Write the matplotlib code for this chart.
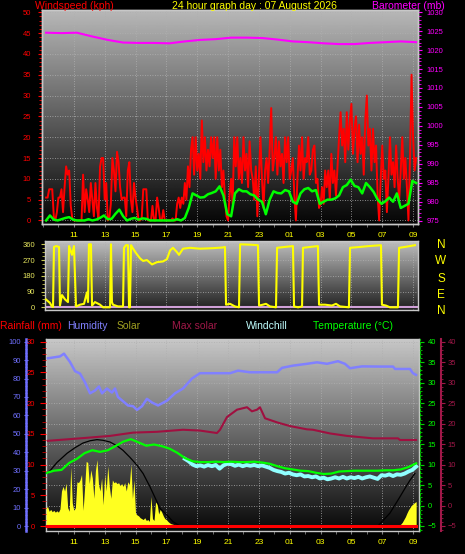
import numpy as np
import matplotlib
matplotlib.use("Agg")
import matplotlib.pyplot as plt
from matplotlib.ticker import MultipleLocator

plt.rcParams['font.family'] = ['Liberation Sans', 'DejaVu Sans']

######## DATA ########
# time axis = hours after 09:00 on 07 August
hour_ticks = [2, 4, 6, 8, 10, 12, 14, 16, 18, 20, 22, 24]
hour_labels = ['11', '13', '15', '17', '19', '21', '23', '01', '03', '05', '07', '09']

# wind gust (kph), one reading every 6 min from 09:12
gust = [5.5, 5.5, 7.5, 7.5, 7.5, 1, 0, 2, 5.5, 5.5,
        7.5, 2, 8, 13, 11, 12, 3.5, 0.5, 0, 0,
        0, 0, 0, 0, 11, 2, 7.5, 5, 2, 9,
        5, 1, 9, 3, 0.5, 13, 15, 15, 5, 9,
        0, 0.5, 4, 15, 12, 7, 16.5, 14, 8, 5,
        5.5, 5.5, 1, 12, 14, 5, 2, 9, 5.5, 3,
        0, 0, 0.5, 7.5, 7.5, 7.5, 0, 0, 0, 3.5,
        0, 0, 5.5, 3, 0, 0, 2.5, 0, 0, 0,
        0, 0, 0.5, 0, 0, 4, 5.5, 3, 5.5, 4,
        9, 5, 13, 8, 17, 20, 11, 20, 12, 16,
        10, 24, 14, 20, 12, 17, 13, 20, 15, 20,
        10, 20, 12, 17, 8, 12, 5, 1, 0, 6,
        10, 4, 20, 13, 20, 10, 15, 9, 20, 12,
        16, 8, 19, 12, 10, 5, 13, 1, 10, 20,
        10, 3, 12, 15, 9, 17, 27, 12, 15, 20,
        11, 19, 13, 16, 9, 20, 14, 20, 10, 12,
        15, 6, 0, 10, 18, 12, 20, 10, 15, 14,
        20, 11, 12, 17, 18, 9, 10, 3, 4, 8,
        4, 12, 8, 12, 5, 16, 9, 12, 6, 13,
        20, 26, 18, 22, 14, 26, 17, 24, 28, 16,
        22, 25, 14, 23, 16, 20, 11, 24, 30, 18,
        22, 12, 22, 14, 18, 6, 0, 10, 18, 10,
        12, 2, 10, 20, 11, 14, 8, 18, 10, 5,
        12, 20, 10, 15, 8, 0, 15, 35, 20, 12, 15]
gust_t = np.linspace(0.2, 24.2, len(gust))

# average wind speed (kph), every 15 min
wind = [0, 1.2, 0.2, 0, 0.3, 0.6, 0.8, 0.2, 0, 0,
        0, 0.3, 0, 0.2, 0.6, 1.2, 0.3, 0.4, 1.6, 2.6,
        1, 0, 0.4, 0.6, 0.2, 0.5, 0.4, 0, 0, 0,
        0, 0, 0, 0, 0.3, 0, 0.6, 3, 6.5, 6,
        5.5, 5.6, 6.3, 6.6, 7, 8.2, 6, 1.5, 1, 6.5,
        7.5, 7, 7, 6.3, 6, 5, 4.5, 1.5, 5, 7,
        6.6, 6.5, 7.3, 7, 4.5, 4, 6.5, 7.5, 7.8, 7,
        7.3, 4, 4.5, 5, 5, 5.3, 6, 8, 8.5, 9.8,
        8.3, 8, 6.5, 9, 8, 6.8, 5, 4, 4.6, 5.5,
        4.5, 6.5, 3, 3.5, 4, 9.5, 9]
wind_t = np.linspace(0.2, 24.2, len(wind))

# barometer (mb), hourly
baro = [1024.6, 1024.5, 1024.6, 1023.6, 1022.7, 1022.0, 1021.9, 1021.9, 1021.8,
        1022.3, 1022.7, 1022.9, 1023.3, 1023.3, 1023.2, 1022.8, 1022.3, 1022.1,
        1021.8, 1021.6, 1021.6, 1021.9, 1022.1, 1022.3, 1022.1]
baro_t = np.linspace(0.2, 24.2, len(baro))

# wind direction (degrees)
dir_t = [0.19, 0.32, 0.45, 0.58, 0.65, 0.71, 0.85, 1.04, 1.10, 1.23, 1.43, 1.62, 1.69,
         1.88, 2.01, 2.14, 2.40, 2.66, 2.85, 2.92, 2.98, 3.11, 3.18, 3.37, 3.70, 3.89,
         4.35, 4.41, 4.47, 4.54, 4.86, 5.19, 5.25, 5.38, 5.51, 5.58, 5.64, 5.71, 5.77,
         6.03, 6.29, 6.49, 6.74, 7.07, 7.39, 7.78, 8.04, 8.24, 8.43, 8.69, 8.82, 9.08,
         9.53, 10.18, 11.02, 11.67, 11.80, 11.87, 12.13, 12.45, 12.71, 12.78, 13.42,
         13.94, 14.01, 14.26, 14.46, 14.72, 15.11, 15.18, 15.69, 16.21, 16.28, 16.54,
         16.80, 16.86, 17.32, 17.83, 17.90, 18.29, 18.74, 19.00, 19.26, 19.84, 19.91,
         20.56, 21.14, 21.92, 21.98, 22.24, 22.50, 22.76, 23.02, 23.09, 23.48, 23.80, 24.12]
dir_deg = [45, 35, 25, 5, 2, 345, 350, 345, 10, 70, 45, 30, 350,
           300, 350, 5, 15, 20, 85, 30, 360, 360, 10, 30, 15, 0,
           0, 360, 30, 15, 5, 5, 340, 355, 355, 0, 0, 355, 345,
           310, 280, 265, 270, 245, 258, 262, 275, 325, 340, 315, 300, 335,
           340, 335, 338, 342, 345, 15, 20, 5, 0, 360, 358,
           355, 10, 15, 20, 5, 0, 340, 345, 350, 5, 0,
           5, 340, 345, 350, 15, 15, 10, 20, 5, 0, 340,
           345, 350, 355, 15, 10, 0, 0, 0, 340, 345, 350, 355]

# humidity (%)
hum_t = [0.32, 1.10, 1.36, 1.75, 2.08, 2.40, 2.72, 3.05, 3.37, 3.63, 3.83, 4.15, 4.47,
         4.67, 4.86, 5.19, 5.51, 5.84, 6.10, 6.42, 6.74, 7.07, 7.46, 8.04, 8.56, 9.08,
         9.66, 10.18, 11.28, 12.13, 12.65, 13.42, 15.18, 15.50, 16.21, 17.12, 17.77,
         18.42, 19.13, 19.58, 19.91, 20.69, 21.85, 22.70, 22.83, 23.80, 23.99, 24.19]
hum = [91, 92, 93.5, 89, 84, 82.7, 78, 72, 73.5, 75.7, 72, 74.6, 72.4,
       74.6, 70, 67.7, 65.4, 65, 63, 65, 69, 67, 65.4, 68, 72, 74.6,
       80, 82.9, 82.9, 82.9, 84.3, 83.4, 83.4, 85.8, 87, 88, 88.8,
       88, 89.4, 88, 85.6, 86.6, 86.5, 86.5, 85.2, 85.2, 82.9, 82]

# crimson line (right hand scale, -5..40)
crim_t = [0.32, 2.40, 4.35, 5.84, 7.39, 9.08, 10.18, 11.28, 11.48, 11.93, 12.58, 13.23,
          13.55, 13.88, 14.07, 14.40, 15.18, 16.02, 17.12, 17.51, 18.61, 19.71, 21.40,
          23.02, 23.15, 24.19]
crim = [15.8, 16.4, 17.0, 17.8, 18.0, 18.5, 18.3, 17.7, 18.5, 21.6, 23.4, 24.0,
        23.0, 23.4, 24.0, 21.3, 20.3, 19.4, 18.6, 18.5, 17.6, 17.0, 16.4,
        16.4, 16.0, 16.0]

# temperature (C), every 30 min
temp = [7.9, 8.5, 8.7, 10.4, 11.4, 12.8, 13.5, 13.1, 13.5, 14.5, 15.6, 16.2, 15.4,
        14.6, 14.9, 14.5, 13.9, 12.9, 11.6, 10.8, 10.6, 10.6, 10.7, 10.6, 10.7,
        10.6, 10.6, 10.7, 10.5, 10.2, 9.6, 9.1, 8.8, 8.5, 8.4, 8.0, 7.7, 7.8,
        8.3, 8.4, 8.5, 8.5, 8.5, 8.5, 8.6, 8.6, 8.8, 9.4, 10.3]
temp_t = np.linspace(0.2, 24.2, len(temp))

# windchill (C), every 15 min from 18:12 (equal to temperature before that)
chill = [11.4, 10.8, 10.0, 9.6, 9.8, 9.5, 9.9, 9.6, 9.9, 9.0, 9.8, 10.2, 10.1,
         9.7, 10.0, 9.6, 9.9, 9.7, 9.9, 9.6, 9.8, 9.5, 9.2, 8.7, 8.4, 8.2, 7.8,
         8.0, 7.6, 7.4, 7.6, 7.1, 7.2, 6.9, 7.1, 6.6, 6.8, 6.4, 6.6, 6.9, 6.6,
         7.0, 6.6, 6.9, 6.7, 7.0, 6.6, 6.9, 7.1, 6.8, 6.5, 7.4, 7.3, 7.6, 7.2,
         7.6, 7.5, 7.8, 8.3, 8.7, 9.5]
chill_t = np.linspace(9.2, 24.2, len(chill))

# solar (W/m2), afternoon every 6 min, next morning every 6 min
solar = [200, 210, 160, 180, 155, 170, 150, 165, 150, 185,
         380, 430, 380, 465, 200, 160, 640, 250, 170, 200,
         480, 470, 500, 560, 170, 420, 700, 690, 460, 610,
         520, 300, 600, 720, 450, 380, 520, 230, 560, 380,
         650, 430, 300, 500, 470, 480, 460, 470, 440, 460,
         430, 470, 380, 480, 450, 670, 300, 500, 140, 120,
         110, 90, 80, 70, 90, 60, 70, 50, 320, 80,
         60, 260, 240, 130, 180, 150, 110, 80, 70, 50,
         35, 25, 20, 15, 8, 0]
solar_t = np.linspace(0.2, 8.7, len(solar))
solar2 = [0, 10, 20, 40, 70, 100, 140, 175, 200, 225, 240, 255, 265]
solar2_t = np.linspace(23.0, 24.2, len(solar2))

# theoretical max solar (W/m2)
maxsol_t = [0.32, 0.91, 1.56, 2.08, 2.59, 3.05, 3.50, 3.89, 4.35, 4.80, 5.19, 5.64,
            6.10, 6.49, 6.94, 7.26, 7.59, 8.04, 8.43, 8.88, 21.72, 22.11, 22.50,
            22.83, 23.15, 23.48, 23.80, 24.12]
maxsol = [573, 690, 789, 850, 900, 925, 937, 930, 911, 870, 821, 745,
          659, 570, 425, 310, 191, 119, 47, 0, 0, 70, 140,
          230, 317, 410, 497, 570]

# rainfall (mm)
rain_t = [0.2, 24.2]
rain = [0.0, 0.0]

######## LAYOUT ########
W, H = 465, 554
fig = plt.figure(figsize=(W / 100, H / 100), dpi=100, facecolor='black')

def box(x0, y0, x1, y1):
    return [x0 / W, 1 - y1 / H, (x1 - x0) / W, (y1 - y0) / H]

def hour_at(x):
    return (x - 43) / 15.42

def shade(ax, top, bottom):
    grad = np.linspace(top, bottom, 256).reshape(-1, 1)
    ax.imshow(grad, cmap='gray', vmin=0, vmax=1, aspect='auto', extent=[0, 1, 0, 1],
              transform=ax.transAxes, zorder=0, interpolation='bilinear')

def frame(ax):
    for s in ax.spines.values():
        s.set_color('#c8c8c8')
        s.set_linewidth(1)

GRID = dict(color='#b0b0b0', linestyle=(0, (1, 2)), linewidth=0.6)
TICKFONT = 5.5

def ftext(x, y, s, color, size=7.5, ha='left'):
    fig.text(x / W, 1 - y / H, s, color=color, fontsize=size, ha=ha, va='center')

######## WIND / BAROMETER ########
ax_w = fig.add_axes(box(42, 10, 418, 224))
shade(ax_w, 0.72, 0.02)
ax_w.set_xlim(hour_at(42), hour_at(418))
ax_w.set_ylim(-0.85, 50.55)
frame(ax_w)
ax_w.set_xticks(hour_ticks)
ax_w.set_xticklabels(hour_labels)
ax_w.xaxis.set_minor_locator(MultipleLocator(1))
ax_w.tick_params(axis='x', which='both', colors='#808080', labelcolor='yellow',
                 labelsize=6, length=2, pad=4)
ax_w.yaxis.set_major_locator(MultipleLocator(5))
ax_w.yaxis.set_minor_locator(MultipleLocator(1))
ax_w.tick_params(axis='y', which='major', colors='red', labelsize=TICKFONT, length=3, pad=5)
ax_w.tick_params(axis='y', which='minor', colors='red', length=2)
ax_w.grid(True, **GRID)
ax_w.plot(gust_t, gust, color='#ff0000', linewidth=1.4, zorder=3)
ax_w.plot(wind_t, wind, color='#00ff00', linewidth=1.8, zorder=4)

ax_p = ax_w.twinx()
ax_p.set_ylim(974.08, 1030.6)
ax_p.yaxis.set_major_locator(MultipleLocator(5))
ax_p.yaxis.set_minor_locator(MultipleLocator(1))
ax_p.tick_params(axis='y', which='major', colors='#ff00ff', labelsize=TICKFONT, length=3, pad=3)
ax_p.tick_params(axis='y', which='minor', colors='#ff00ff', length=2)
frame(ax_p)
ax_p.plot(baro_t, baro, color='#ff00ff', linewidth=1.5)

ftext(35, 6, 'Windspeed (kph)', 'red')
ftext(172, 6, '24 hour graph day : 07 August 2026', 'yellow')
ftext(372, 6, 'Barometer (mb)', '#ff00ff')

######## WIND DIRECTION ########
ax_d = fig.add_axes(box(45, 241, 418, 310))
shade(ax_d, 0.75, 0.12)
ax_d.set_xlim(hour_at(45), hour_at(418))
ax_d.set_ylim(-15.4, 378.9)
frame(ax_d)
ax_d.set_xticks(hour_ticks)
ax_d.set_xticklabels([])
ax_d.tick_params(axis='x', length=0)
ax_d.set_yticks([0, 90, 180, 270, 360])
ax_d.yaxis.set_minor_locator(MultipleLocator(22.5))
ax_d.tick_params(axis='y', which='major', colors='#c8c850', labelcolor='#e8e860',
                 labelsize=TICKFONT, length=3, pad=4)
ax_d.tick_params(axis='y', which='minor', colors='#c8c850', length=2)
ax_d.grid(True, **GRID)
ax_d.axhline(0, color='#d0a0d8', linewidth=1.5, zorder=2)
ax_d.plot(dir_t, dir_deg, color='#ffff00', linewidth=1.5, zorder=3)

for letter, y in zip(['N', 'W', 'S', 'E', 'N'], [245, 261, 279, 295, 311]):
    ftext(441, y, letter, 'yellow', size=8.5, ha='center')

######## TEMPERATURE / HUMIDITY / SOLAR ########
ax_t = fig.add_axes(box(46, 339.3, 419, 530.7))
shade(ax_t, 0.78, 0.03)
ax_t.set_xlim(hour_at(46), hour_at(419))
ax_t.set_ylim(-6.15, 40.59)
frame(ax_t)
ax_t.set_xticks(hour_ticks)
ax_t.set_xticklabels(hour_labels)
ax_t.xaxis.set_minor_locator(MultipleLocator(1))
ax_t.tick_params(axis='x', which='both', colors='#808080', labelcolor='yellow',
                 labelsize=6, length=2, pad=4)
ax_t.set_yticks(np.arange(-5, 41, 5))
ax_t.set_yticklabels([])
ax_t.tick_params(axis='y', length=0)
ax_t.grid(True, **GRID)

def twin(ax, lo, hi):
    a = ax.twinx()
    a.set_ylim(lo, hi)
    for s in a.spines.values():
        s.set_visible(False)
    a.set_yticks([])
    return a

ax_s = twin(ax_t, -51, 2026)
ax_s.fill_between(solar_t, 0, solar, color='#ffff20', linewidth=0)
ax_s.fill_between(solar2_t, 0, solar2, color='#ffff20', linewidth=0)
ax_s.plot(maxsol_t, maxsol, color='black', linewidth=0.9)

ax_c = twin(ax_t, -6.15, 40.59)
ax_c.spines['right'].set_visible(True)
ax_c.spines['right'].set_position(('axes', 1.059))
ax_c.spines['right'].set_color('#a01848')
ax_c.spines['right'].set_linewidth(1.5)
ax_c.set_yticks(np.arange(-5, 41, 5))
ax_c.yaxis.set_minor_locator(MultipleLocator(1))
ax_c.tick_params(axis='y', which='major', colors='#a01848', labelsize=TICKFONT, length=3, pad=2)
ax_c.tick_params(axis='y', which='minor', colors='#a01848', length=1.5)
ax_c.plot(crim_t, crim, color='#a01040', linewidth=1.5)

ax_h = twin(ax_t, -2.55, 101.3)
ax_h.yaxis.tick_left()
ax_h.spines['left'].set_visible(True)
ax_h.spines['left'].set_position(('axes', -0.054))
ax_h.spines['left'].set_color('#7070ff')
ax_h.spines['left'].set_linewidth(1.8)
ax_h.set_yticks(np.arange(0, 101, 10))
ax_h.yaxis.set_minor_locator(MultipleLocator(2))
ax_h.tick_params(axis='y', which='major', colors='#7070ff', labelsize=TICKFONT, length=3,
                 direction='inout', pad=2)
ax_h.tick_params(axis='y', which='minor', colors='#7070ff', length=2, direction='inout')
ax_h.plot(hum_t, hum, color='#8080ff', linewidth=1.8)

ax_tc = twin(ax_t, -6.15, 40.59)
ax_tc.spines['right'].set_visible(True)
ax_tc.spines['right'].set_position(('axes', 1.004))
ax_tc.spines['right'].set_color('#00c000')
ax_tc.spines['right'].set_linestyle((0, (2, 2)))
ax_tc.set_yticks(np.arange(-5, 41, 5))
ax_tc.yaxis.set_minor_locator(MultipleLocator(1))
ax_tc.tick_params(axis='y', which='major', colors='#00d000', labelcolor='#00ff00',
                  labelsize=TICKFONT, length=3, pad=2)
ax_tc.tick_params(axis='y', which='minor', colors='#00d000', length=1.5)
ax_tc.plot(chill_t, chill, color='#90ffff', linewidth=2.8)
ax_tc.plot(temp_t, temp, color='#00ff00', linewidth=1.6)

ax_r = twin(ax_t, -0.765, 30.39)
ax_r.yaxis.tick_left()
ax_r.set_yticks(np.arange(0, 31, 5))
ax_r.yaxis.set_minor_locator(MultipleLocator(1))
ax_r.tick_params(axis='y', which='major', colors='red', labelsize=TICKFONT, length=4, pad=4)
ax_r.tick_params(axis='y', which='minor', colors='#c00000', length=3)
ax_r.plot(rain_t, rain, color='#ff0000', linewidth=2.2)

ftext(0, 326, 'Rainfall (mm)', 'red')
ftext(67, 326, 'Humidity', '#8080ff')
ftext(117, 326, 'Solar', '#a0a020')
ftext(172, 326, 'Max solar', '#a01848')
ftext(246, 326, 'Windchill', '#c0ffff')
ftext(313, 326, 'Temperature (\u00b0C)', '#00ff00')

fig.savefig('out.png', dpi=100, facecolor='black')
